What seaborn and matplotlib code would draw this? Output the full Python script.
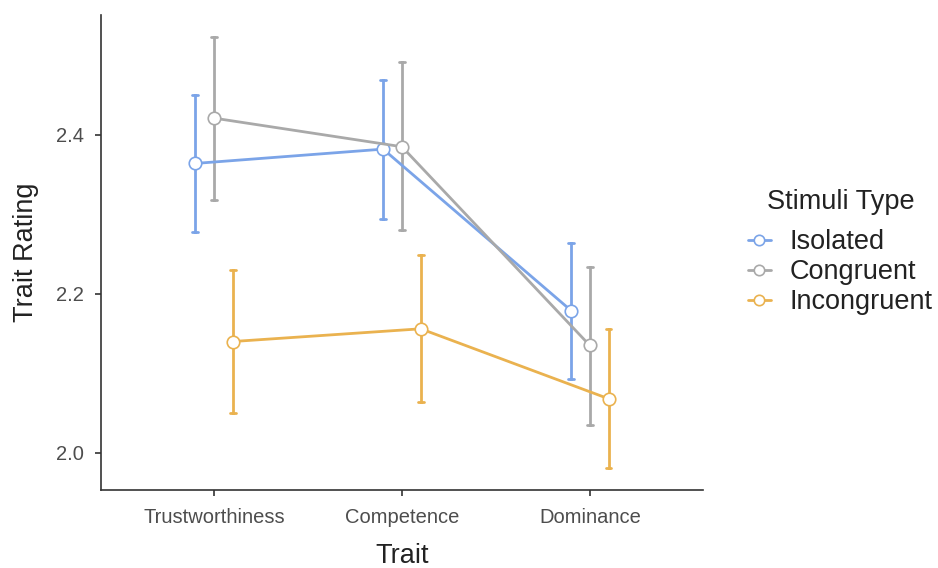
import numpy as np
import pandas as pd
import seaborn as sns
import matplotlib.pyplot as plt

# values
traits = ['Trustworthiness', 'Competence', 'Dominance']
stimuli = ['Isolated', 'Congruent', 'Incongruent']
colors = ['#7BA4E8', '#A9A9A9', '#EAB24F']

mean_isolated = [2.364, 2.382, 2.179]
low_isolated = [2.278, 2.294, 2.093]
high_isolated = [2.450, 2.469, 2.264]

mean_congruent = [2.421, 2.385, 2.135]
low_congruent = [2.318, 2.280, 2.035]
high_congruent = [2.523, 2.491, 2.234]

mean_incongruent = [2.140, 2.156, 2.068]
low_incongruent = [2.050, 2.064, 1.981]
high_incongruent = [2.230, 2.249, 2.156]

# long table: low / mean / high per cell, median gives the point, full range gives the bar
rows = []
for name, lo, mu, hi in [('Isolated', low_isolated, mean_isolated, high_isolated),
                         ('Congruent', low_congruent, mean_congruent, high_congruent),
                         ('Incongruent', low_incongruent, mean_incongruent, high_incongruent)]:
    for i, t in enumerate(traits):
        for v in (lo[i], mu[i], hi[i]):
            rows.append({'Trait': t, 'Stimuli Type': name, 'Trait Rating': v})
df = pd.DataFrame(rows)

sns.set_theme(style='ticks')
plt.rcParams['font.family'] = ['Liberation Sans', 'DejaVu Sans']

fig = plt.figure(figsize=(9.38, 5.68), dpi=100)
ax = fig.add_axes([0.108, 0.137, 0.641, 0.837])

sns.pointplot(data=df, x='Trait', y='Trait Rating', hue='Stimuli Type',
              order=traits, hue_order=stimuli, palette=colors,
              estimator='median', errorbar=('pi', 100),
              dodge=0.2, capsize=0.03, markers='o',
              markersize=9, markeredgewidth=1.2, markerfacecolor='white',
              linewidth=2, err_kws={'linewidth': 2}, ax=ax)

for ln in ax.lines:
    if ln.get_marker() not in (None, '', 'None'):
        ln.set_zorder(5)

ax.set_xlim(-0.6, 2.6)
ax.set_ylim(1.953, 2.551)
ax.set_yticks([2.0, 2.2, 2.4])
ax.set_yticklabels(['2.0', '2.2', '2.4'])
sns.despine(ax=ax)
for s in ['left', 'bottom']:
    ax.spines[s].set_color('#333333')
    ax.spines[s].set_linewidth(1.2)
ax.tick_params(axis='both', labelsize=14.5, colors='#333333', labelcolor='#4d4d4d',
               length=4.5, width=1.2, pad=8)
ax.set_xlabel('Trait', fontsize=19.5, color='#222222', labelpad=12)
ax.set_ylabel('Trait Rating', fontsize=19.5, color='#222222', labelpad=12)

leg = ax.legend(title='Stimuli Type', loc='center left', bbox_to_anchor=(1.035, 0.50),
                frameon=False, fontsize=19.5, title_fontsize=19.5,
                handlelength=0.85, handletextpad=0.7, labelspacing=0.15)
leg._legend_box.sep = 10
leg.get_title().set_color('#222222')
for txt in leg.get_texts():
    txt.set_color('#222222')
for h in leg.legend_handles:
    h.set_markersize(7.5)

fig.savefig('out.png', dpi=100)
